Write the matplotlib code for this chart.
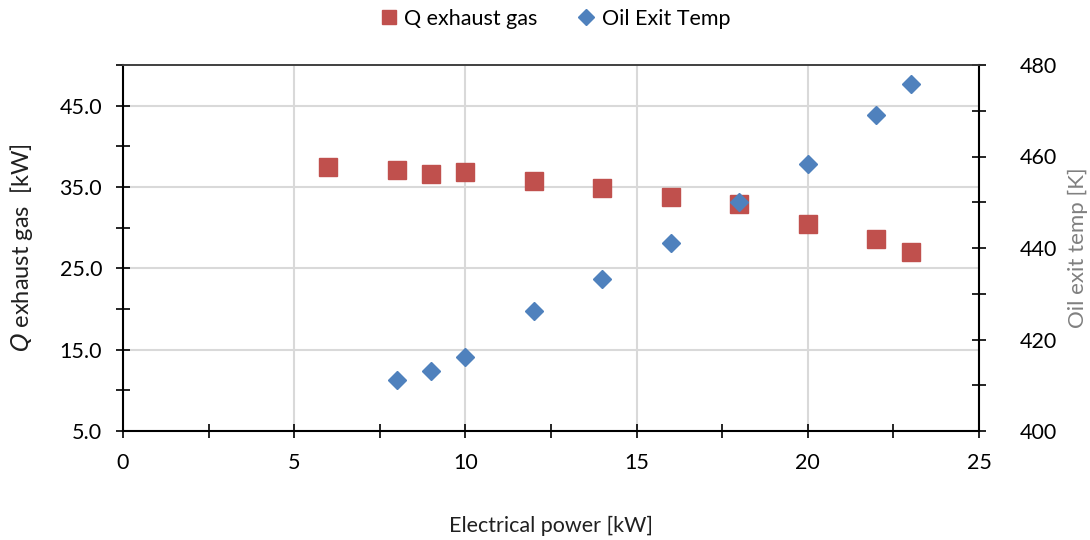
import matplotlib
matplotlib.use("Agg")
import matplotlib.pyplot as plt
from matplotlib.ticker import MultipleLocator, FormatStrFormatter

# Data
power_q = [6, 8, 9, 10, 12, 14, 16, 18, 20, 22, 23]
q_exhaust = [37.4, 37.1, 36.6, 36.9, 35.75, 34.85, 33.75, 32.9, 30.4, 28.6, 27.05]
power_t = [8, 9, 10, 12, 14, 16, 18, 20, 22, 23]
oil_temp = [411.1, 413.1, 416.2, 426.3, 433.2, 441.0, 450.0, 458.4, 469.0, 475.8]

x_ticks = [0, 5, 10, 15, 20, 25]
left_ticks = [5, 15, 25, 35, 45]
right_ticks = [400, 420, 440, 460, 480]

RED = "#C0504D"
BLUE = "#4F81BD"
GRID = "#D9D9D9"

plt.rcParams['font.family'] = ['Lato', 'DejaVu Sans']
FS = 15.5

fig = plt.figure(figsize=(10.9, 5.4), dpi=100)
ax = fig.add_axes([123/1090, 1-431/540, (979-123)/1090, (431-65)/540])
ax2 = ax.twinx()

ax.set_xlim(0, 25)
ax.set_ylim(5, 50)
ax2.set_ylim(400, 480)

ax.set_xticks(x_ticks)
ax.xaxis.set_minor_locator(MultipleLocator(2.5))
ax.set_yticks(left_ticks)
ax.yaxis.set_minor_locator(MultipleLocator(5))
ax.yaxis.set_major_formatter(FormatStrFormatter('%.1f'))
ax2.set_yticks(right_ticks)
ax2.yaxis.set_minor_locator(MultipleLocator(10))

ax.grid(True, which='major', color=GRID, lw=1.5)
ax.set_axisbelow(True)

for a in (ax, ax2):
    for s in ('left', 'bottom', 'right'):
        a.spines[s].set_color('black')
        a.spines[s].set_linewidth(1.5)
    a.spines['top'].set_color('#404040')
    a.spines['top'].set_linewidth(1.2)
    a.tick_params(which='both', direction='inout', color='black', width=1.2, colors='black')
    a.tick_params(which='major', length=10, labelsize=FS)
    a.tick_params(which='minor', length=10)

ax.tick_params(axis='x', pad=11)
ax.tick_params(axis='y', pad=10)
ax2.tick_params(axis='y', pad=24)
ax.spines['right'].set_visible(False)
ax2.spines['left'].set_visible(False)
ax2.spines['bottom'].set_visible(False)

ax.plot(power_q, q_exhaust, linestyle='none', marker='s', markersize=12.5,
        color=RED, label='Q exhaust gas', zorder=3, clip_on=False)
ax2.plot(power_t, oil_temp, linestyle='none', marker='D', markersize=9,
         color=BLUE, label='Oil Exit Temp', zorder=4, clip_on=False)

ax.set_xlabel('Electrical power [kW]', fontsize=FS, labelpad=31, color='#202020')
ax.set_ylabel(r'$\mathit{Q}$ exhaust gas  [kW]', fontsize=17, labelpad=18, color='#202020')
ax2.set_ylabel('Oil exit temp [K]', fontsize=16, labelpad=8, color='#808080')

h1, l1 = ax.get_legend_handles_labels()
h2, l2 = ax2.get_legend_handles_labels()
fig.legend(h1 + h2, l1 + l2, loc='upper center', bbox_to_anchor=(555/1090, 1.02), ncol=2,
           frameon=False, fontsize=FS, handlelength=0.8, handletextpad=0.3,
           columnspacing=1.9, markerscale=0.85)

fig.savefig('out.png', dpi=100)
